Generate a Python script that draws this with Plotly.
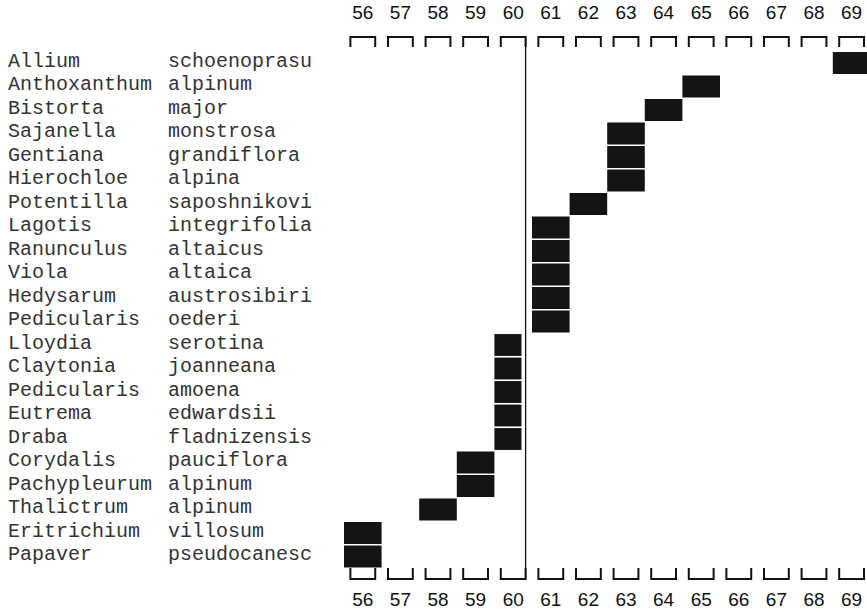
import plotly.graph_objects as go

# ---- data ----
genus = ["Allium", "Anthoxanthum", "Bistorta", "Sajanella", "Gentiana", "Hierochloe",
         "Potentilla", "Lagotis", "Ranunculus", "Viola", "Hedysarum", "Pedicularis",
         "Lloydia", "Claytonia", "Pedicularis", "Eutrema", "Draba", "Corydalis",
         "Pachypleurum", "Thalictrum", "Eritrichium", "Papaver"]
epithet = ["schoenoprasu", "alpinum", "major", "monstrosa", "grandiflora", "alpina",
           "saposhnikovi", "integrifolia", "altaicus", "altaica", "austrosibiri", "oederi",
           "serotina", "joanneana", "amoena", "edwardsii", "fladnizensis", "pauciflora",
           "alpinum", "alpinum", "villosum", "pseudocanesc"]
column = [69, 65, 64, 63, 63, 63, 62, 61, 61, 61, 61, 61,
          60, 60, 60, 60, 60, 59, 59, 58, 56, 56]
col_labels = [56, 57, 58, 59, 60, 61, 62, 63, 64, 65, 66, 67, 68, 69]
divider_col = 60

# ---- geometry (pixel mapping) ----
W, H = 867, 614
pitch = 37.6            # px per column
row_h = 23.5            # px per row
x0 = 55.5 - 344 / pitch
x1 = x0 + W / pitch
y_top = -63 / row_h
y_bot = y_top + H / row_h


def ypx(px):
    return y_top + px / row_h


def xpx(px):
    return x0 + px / pitch


rows = list(range(len(genus)))
half = 0.33  # bracket half width in column units

fig = go.Figure()

# cells
widths = [0.72 if c == divider_col else 1.0 for c in column]
fig.add_trace(go.Bar(
    orientation="h", y=rows, x=widths, base=[c - 0.5 for c in column],
    width=0.93, marker=dict(color="#141414", line=dict(width=0)),
    hoverinfo="skip", showlegend=False))

# brackets top and bottom
bx, by = [], []
for c in col_labels:
    bx += [c - half, c - half, c + half, c + half, None]
    by += [ypx(47), ypx(37), ypx(37), ypx(47), None]
for c in col_labels:
    bx += [c - half, c - half, c + half, c + half, None]
    by += [ypx(568), ypx(579), ypx(579), ypx(568), None]
fig.add_trace(go.Scatter(x=bx, y=by, mode="lines",
                         line=dict(color="#111", width=2),
                         hoverinfo="skip", showlegend=False))

# divider line
fig.add_trace(go.Scatter(x=[divider_col + half, divider_col + half],
                         y=[ypx(37), ypx(579)], mode="lines",
                         line=dict(color="#111", width=1.3),
                         hoverinfo="skip", showlegend=False))

# column labels top/bottom
num_font = dict(family="Liberation Sans, Arial", size=19, color="#111")
fig.add_trace(go.Scatter(x=col_labels, y=[ypx(14)] * len(col_labels), mode="text",
                         text=[str(c) for c in col_labels], textposition="middle center",
                         textfont=num_font, hoverinfo="skip", showlegend=False,
                         cliponaxis=False))
fig.add_trace(go.Scatter(x=col_labels, y=[ypx(601)] * len(col_labels), mode="text",
                         text=[str(c) for c in col_labels], textposition="middle center",
                         textfont=num_font, hoverinfo="skip", showlegend=False,
                         cliponaxis=False))

# species names
name_font = dict(family="Liberation Mono, Courier New, monospace", size=20, color="#333333")
for r, g, e in zip(rows, genus, epithet):
    fig.add_annotation(x=xpx(6), y=r - 0.08, xref="x", yref="y", text=g, showarrow=False,
                       xanchor="left", yanchor="middle", font=name_font)
    fig.add_annotation(x=xpx(166), y=r - 0.08, xref="x", yref="y", text=e, showarrow=False,
                       xanchor="left", yanchor="middle", font=name_font)

fig.update_layout(
    width=W, height=H, margin=dict(l=0, r=0, t=0, b=0),
    paper_bgcolor="white", plot_bgcolor="white",
    barmode="overlay", hovermode=False,
    xaxis=dict(range=[x0, x1], visible=False, fixedrange=True),
    yaxis=dict(range=[y_bot, y_top], visible=False, fixedrange=True),
)

fig.write_html("out.html",
               config={"displayModeBar": False, "staticPlot": True},
               post_script="document.body.style.margin='0px';"
                           "document.body.style.overflow='hidden';")
